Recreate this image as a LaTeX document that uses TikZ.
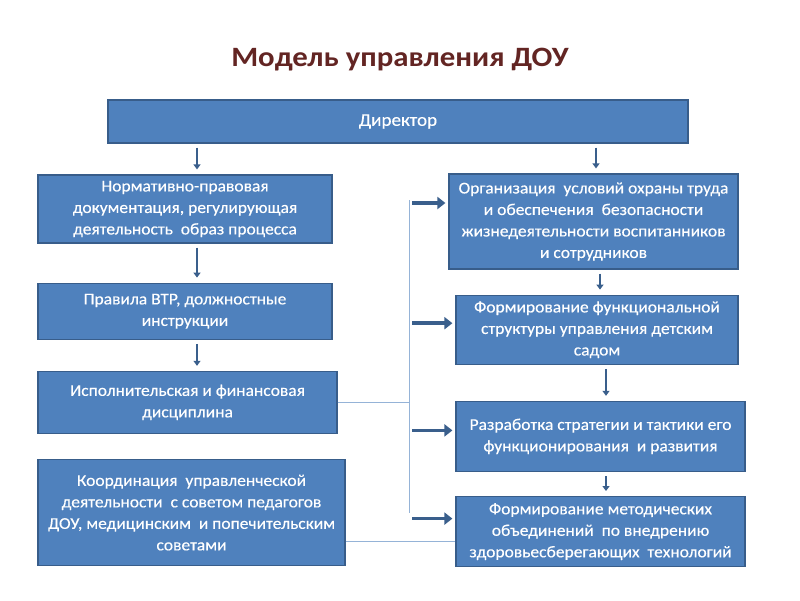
\documentclass[tikz,border=0pt]{standalone}
\usepackage{fontspec}
\setmainfont{Carlito}[FakeStretch=1.06, FakeBold=0.3]
\newfontfamily\titlefont{Carlito}[FakeStretch=1.1]
\usetikzlibrary{positioning,arrows.meta}

\definecolor{boxblue}{HTML}{4F81BD}
\definecolor{boxedge}{HTML}{385D8A}
\definecolor{arrowblue}{HTML}{3A5F8C}
\definecolor{linkblue}{HTML}{95B3D7}
\definecolor{titlered}{HTML}{632523}

\tikzset{
  block/.style={draw=boxedge, line width=1.2pt, fill=boxblue, text=white, align=center,
    font=\fontsize{16.5}{21.5}\selectfont, inner sep=0pt},
  down/.style={arrowblue, line width=2pt, -{Triangle[width=7pt,length=5pt]},
    shorten <=4pt, shorten >=5pt},
  feed/.style={arrowblue, line width=3.5pt, -{Triangle[width=12pt,length=8pt]},
    shorten <=3pt, shorten >=3pt},
  link/.style={linkblue, line width=1pt},
}

\begin{document}
\begin{tikzpicture}[x=1pt, y=1pt]
      \fill[white] (0,0) rectangle (800,-600);
      \useasboundingbox (0,0) rectangle (800,-600);
      \node[font=\titlefont\fontsize{28}{32}\selectfont\bfseries, text=titlered] (title) at (400,-60) {Модель управления ДОУ};
      \node[block, minimum width=580pt, minimum height=43pt, font=\fontsize{18}{22}\selectfont] (dir) at (398,-121.5) {Директор};
      \node[block, minimum width=294pt, minimum height=68pt] (norm) at (185,-209)
        {Нормативно-правовая\\документация, регулирующая\\деятельность\ \ образ процесса};
      \node[block, minimum width=294pt, minimum height=56pt, below=39pt of norm] (rules)
        {Правила ВТР, должностные\\инструкции};
      \node[block, minimum width=299pt, minimum height=62pt, below=31pt of rules.south west, anchor=north west] (disc)
        {Исполнительская и финансовая\\дисциплина};
      \node[block, minimum width=307pt, minimum height=106pt, below=25pt of disc.south west, anchor=north west] (coord)
        {Координация\ \ управленческой\\деятельности\ \ с советом педагогов\\ДОУ, медицинским\ \ и попечительским\\советами};
      \node[block, minimum width=289pt, minimum height=95pt] (safe) at (593.5,-221.5)
        {Организация\ \ условий охраны труда\\и обеспечения\ \ безопасности\\жизнедеятельности воспитанников\\и сотрудников};
      \node[block, minimum width=282pt, minimum height=69pt, below=25pt of safe.south east, anchor=north east] (struct)
        {Формирование функциональной\\структуры управления детским\\садом};
      \node[block, minimum width=289pt, minimum height=70pt, below=36pt of struct.south west, anchor=north west] (strat)
        {Разработка стратегии и тактики его\\функционирования\ \ и развития};
      \node[block, minimum width=289pt, minimum height=70pt, below=24pt of strat] (method)
        {Формирование методических\\объединений\ \ по внедрению\\здоровьесберегающих\ \ технологий};
      \coordinate (bustop) at (409,-200);
      \coordinate (busbot) at (409,-513);
      \draw[down] ([xshift=12pt]norm.north |- dir.south) -- ([xshift=12pt]norm.north);
      \draw[down] ([xshift=12pt]norm.south) -- ([xshift=12pt]rules.north);
      \draw[down] ([xshift=12pt]rules.south) -- ([xshift=12pt]rules.south |- disc.north);
      \draw[down] ([xshift=2.5pt]safe.north |- dir.south) -- ([xshift=2.5pt]safe.north);
      \draw[down] ([xshift=3pt]struct.north |- safe.south) -- ([xshift=3pt]struct.north);
      \draw[down] ([xshift=5.5pt]strat.north |- struct.south) -- ([xshift=5.5pt]strat.north);
      \draw[down] ([xshift=5.5pt]strat.south) -- ([xshift=5.5pt]method.north);
      \draw[link] (bustop) -- (busbot);
      \draw[link] (disc.east) -- (disc.east -| bustop);
      \draw[link] ([yshift=-29pt]coord.east) -- ([yshift=-29pt]coord.east -| method.west);
      \draw[feed] ([yshift=18.5pt]safe.west -| bustop) -- ([yshift=18.5pt]safe.west);
      \draw[feed] ([yshift=6.5pt]struct.west -| bustop) -- ([yshift=6.5pt]struct.west);
      \draw[feed] ([yshift=6pt]strat.west -| bustop) -- ([yshift=6pt]strat.west);
      \draw[feed] ([yshift=13pt]method.west -| bustop) -- ([yshift=13pt]method.west);
    \end{tikzpicture}
\end{document}
